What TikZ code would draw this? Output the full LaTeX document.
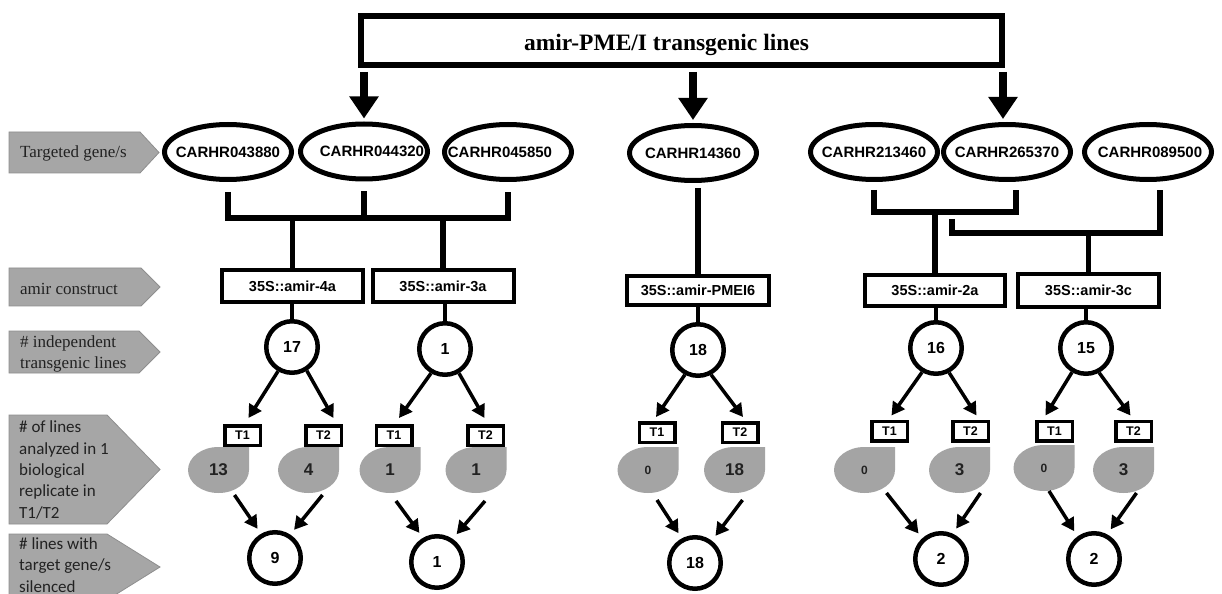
\documentclass[tikz,border=0pt]{standalone}
\usepackage{fontspec}
\setmainfont{Liberation Serif}
\newfontfamily\hv{Liberation Sans}
\newfontfamily\carl{Carlito}
\usetikzlibrary{arrows.meta,shapes.geometric}
\pgfdeclarelayer{bg}
\pgfsetlayers{bg,main}

\definecolor{labelgray}{HTML}{A6A6A6}
\definecolor{labeledge}{HTML}{8E8E8E}
\definecolor{dropgray}{HTML}{A4A4A4}
\definecolor{ink}{HTML}{222222}

\newcommand\genefont{\hv\bfseries\fontsize{15bp}{18bp}\selectfont}
\newcommand\boxfont{\hv\bfseries\fontsize{14.5bp}{17bp}\selectfont}
\newcommand\numfont{\hv\bfseries\fontsize{16bp}{19bp}\selectfont}
\newcommand\dropfont{\hv\bfseries\fontsize{17bp}{20bp}\selectfont}
\newcommand\zerofont{\hv\bfseries\fontsize{12bp}{14bp}\selectfont}
\newcommand\tfont{\hv\bfseries\fontsize{12.5bp}{15bp}\selectfont}

% grey teardrop behind a drop node: three rounded quarters, square top-right corner
\newcommand\teardrop[1]{\fill[dropgray] (#1.north east) -- (#1.north)
  arc[start angle=90,end angle=360,x radius=30.5bp,y radius=23bp] -- cycle;}

\begin{document}
\begin{tikzpicture}[x=1bp,y=-1bp,
  titlebox/.style={rectangle,draw,line width=6bp,minimum width=641bp,minimum height=49bp,inner sep=0pt},
  gene/.style={ellipse,draw,line width=5bp,minimum width=127bp,minimum height=55bp,inner sep=0pt,font=\genefont},
  cbox/.style={rectangle,draw,line width=4bp,minimum width=141bp,minimum height=32bp,inner sep=0pt,font=\boxfont},
  num/.style={circle,draw,line width=4.5bp,minimum size=51.5bp,inner sep=0pt,font=\numfont},
  tbox/.style={rectangle,draw,line width=3.5bp,minimum width=35.5bp,minimum height=19.5bp,inner sep=0pt,font=\tfont},
  drop/.style={rectangle,minimum width=61bp,minimum height=46bp,inner sep=0pt,outer sep=0pt,font=\dropfont,text=ink},
  zero/.style={drop,font=\zerofont},
  link/.style={line width=5.5bp},
  thinlink/.style={line width=4bp},
  bigarrow/.style={line width=8bp,-{Triangle[length=22bp,width=28bp]}},
  smallarrow/.style={line width=3.5bp,-{Triangle[length=13bp,width=14bp]}},
  labelshape/.style={fill=labelgray,draw=labeledge,line width=0.8bp},
  serlabel/.style={anchor=base west,inner sep=0pt,align=left,text=ink,font=\fontsize{17bp}{20bp}\selectfont},
  callabel/.style={anchor=base west,inner sep=0pt,align=left,text=ink,font=\carl\fontsize{17bp}{21.3bp}\selectfont}
]
\useasboundingbox (0,0) rectangle (1222,594);

% ---- row labels on the left
\path[labelshape] (9,132) -- (140,132) -- (159,152.5) -- (140,173) -- (9,173) -- cycle;
\node[serlabel] (lab1) at (20,158) {Targeted gene/s};
\path[labelshape] (9,268) -- (141,268) -- (160,287) -- (141,306) -- (9,306) -- cycle;
\node[serlabel] (lab2) at (20,295) {amir construct};
\path[labelshape] (9,331) -- (139,331) -- (160,352) -- (139,373) -- (9,373) -- cycle;
\node[serlabel] (lab3) at (20,368) {\# independent\\transgenic lines};
\path[labelshape] (9,415) -- (107,415) -- (160,469.5) -- (107,524) -- (9,524) -- cycle;
\node[callabel] (lab4) at (19,518) {\# of lines\\analyzed in 1\\biological\\replicate in\\T1/T2};
\path[labelshape] (9,534) -- (107,534) -- (160,567) -- (107,600) -- (9,600) -- cycle;
\node[callabel] (lab5) at (19,592) {\# lines with\\target gene/s\\silenced};

% ---- title
\node[titlebox] (top) at (681.5,40.5) {};
\node[anchor=base,inner sep=0pt,font=\bfseries\fontsize{23.5bp}{28bp}\selectfont] (toptext) at (666.5,51) {amir-PME/I transgenic lines};

% ---- targeted genes
\node[gene] (e1) at (228,152)  {\makebox[0pt]{CARHR043880}};
\node[gene] (e2) at (364,151.5){\makebox[0pt]{\hspace*{16bp}CARHR044320}};
\node[gene] (e3) at (508,152)  {\makebox[0pt]{CARHR045850\hspace*{16bp}}};
\node[gene] (e4) at (693,153)  {\makebox[0pt]{CARHR14360}};
\node[gene] (e5) at (874,152)  {\makebox[0pt]{CARHR213460}};
\node[gene] (e6) at (1007,152) {\makebox[0pt]{CARHR265370}};
\node[gene] (e7) at (1148,152) {\makebox[0pt]{\hspace*{4bp}CARHR089500}};

% ---- arrows from the title box
\coordinate (tb) at ([yshift=-4bp]top.south);
\draw[bigarrow] (tb -| e2.north) -- ([yshift=3bp]e2.north);
\draw[bigarrow] (tb -| e4.north) -- ([yshift=3bp]e4.north);
\coordinate (e6t) at ([xshift=-4bp,yshift=3bp]e6.north);
\draw[bigarrow] (tb -| e6t) -- (e6t);

% ---- amir constructs
\node[cbox] (c1) at (292.5,286) {35S::amir-4a};
\node[cbox] (c2) at (443,286)   {35S::amir-3a};
\node[cbox,minimum width=142bp,minimum height=29bp] (c3) at (698,290.5) {35S::amir-PMEI6};
\node[cbox,minimum width=140bp,minimum height=31bp] (c4) at (935,290.5) {35S::amir-2a};
\node[cbox] (c5) at (1088.5,290.5) {35S::amir-3c};

% ---- gene to construct connectors
\coordinate (jl) at (0,218);
\draw[link] ([yshift=-10bp]e1.south) -- (e1.south |- jl) -- (e3.south |- jl) -- ([yshift=-10bp]e3.south);
\draw[link] ([yshift=-10bp]e2.south) -- (e2.south |- jl);
\draw[link] (c1.north |- jl) -- (c1.north);
\draw[link] (c2.north |- jl) -- (c2.north);

\coordinate (e4b) at ([yshift=-5bp]e4.south);
\draw[link] (c3.north |- e4b) -- (c3.north);

\coordinate (jr1) at (0,212);
\coordinate (e6b) at ([xshift=9bp,yshift=-8bp]e6.south);
\draw[link] ([yshift=-8bp]e5.south) -- (e5.south |- jr1) -- (e6b |- jr1) -- (e6b);
\draw[link] (c4.north |- jr1) -- (c4.north);

\coordinate (jr2) at (0,233);
\coordinate (k2) at (952,219);
\coordinate (e7b) at ([xshift=12bp,yshift=-8bp]e7.south);
\draw[link] (k2) -- (k2 |- jr2) -- (e7b |- jr2) -- (e7b);
\draw[link] (c5.north |- jr2) -- (c5.north);

% ---- independent lines
\node[num] (n1) at (292,347)  {17};
\node[num] (n2) at (445,349)  {1};
\node[num] (n3) at (698,350)  {18};
\node[num] (n4) at (936,348)  {16};
\node[num] (n5) at (1086,348) {15};
\draw[thinlink] (n1.north |- c1.south) -- (n1.north);
\draw[thinlink] (n2.north |- c2.south) -- (n2.north);
\draw[thinlink] (n3.north |- c3.south) -- (n3.north);
\draw[thinlink] (n4.north |- c4.south) -- (n4.north);
\draw[thinlink] (n5.north |- c5.south) -- (n5.north);

% ---- T1 / T2 tags
\node[tbox] (ta1) at (242.5,435.5) {T1};
\node[tbox] (ta2) at (323.5,435.5) {T2};
\node[tbox] (tb1) at (394,435.5)   {T1};
\node[tbox] (tb2) at (485.5,435.5) {T2};
\node[tbox] (tc1) at (657,432.5)   {T1};
\node[tbox] (tc2) at (740,432.5)   {T2};
\node[tbox] (td1) at (889.5,431)   {T1};
\node[tbox] (td2) at (970.5,431)   {T2};
\node[tbox] (te1) at (1054.5,431)  {T1};
\node[tbox] (te2) at (1133.5,431)  {T2};

\draw[smallarrow] (n1.240) -- ([xshift=6bp,yshift=6bp]ta1.north);
\draw[smallarrow] (n1.302) -- ([xshift=10bp,yshift=6bp]ta2.north);
\draw[smallarrow] (n2.240) -- ([xshift=5bp,yshift=6bp]tb1.north);
\draw[smallarrow] (n2.300) -- ([xshift=-1bp,yshift=6bp]tb2.north);
\draw[smallarrow] (n3.242) -- ([xshift=-1bp,yshift=4bp]tc1.north);
\draw[smallarrow] (n3.298) -- ([xshift=3bp,yshift=4bp]tc2.north);
\draw[smallarrow] (n4.240) -- ([xshift=2bp,yshift=4bp]td1.north);
\draw[smallarrow] (n4.298) -- ([xshift=6bp,yshift=4bp]td2.north);
\draw[smallarrow] (n5.240) -- ([xshift=-9bp,yshift=4bp]te1.north);
\draw[smallarrow] (n5.298) -- ([xshift=-3bp,yshift=4bp]te2.north);

% ---- lines analysed per generation
\node[drop] (da1) at (218.5,470) {13};
\node[drop] (da2) at (308.5,470) {4};
\node[drop] (db1) at (390,470)   {1};
\node[drop] (db2) at (476,470)   {1};
\node[zero] (dc1) at (648,470)   {0};
\node[drop] (dc2) at (734.5,470) {18};
\node[zero] (dd1) at (864.5,470) {0};
\node[drop] (dd2) at (959.5,470) {3};
\node[zero] (de1) at (1044,468)  {0};
\node[drop] (de2) at (1123.5,470){3};
\begin{pgfonlayer}{bg}
  \fill[white] (0,0) rectangle (1222,594);
  \teardrop{da1}\teardrop{da2}\teardrop{db1}\teardrop{db2}\teardrop{dc1}
  \teardrop{dc2}\teardrop{dd1}\teardrop{dd2}\teardrop{de1}\teardrop{de2}
\end{pgfonlayer}

% ---- silenced lines
\node[num] (m1) at (275,558)  {9};
\node[num] (m2) at (437,562)  {1};
\node[num] (m3) at (695,563)  {18};
\node[num] (m4) at (941,559)  {2};
\node[num] (m5) at (1094,559) {2};

\draw[smallarrow,shorten >=6bp] ([xshift=16bp,yshift=-2bp]da1.south) -- (m1.120);
\draw[smallarrow,shorten >=6bp] ([xshift=14bp,yshift=-2bp]da2.south) -- (m1.57);
\draw[smallarrow,shorten >=6bp] ([xshift=6bp,yshift=-8bp]db1.south) -- (m2.120);
\draw[smallarrow,shorten >=6bp] ([xshift=9bp,yshift=-8bp]db2.south) -- (m2.56);
\draw[smallarrow,shorten >=6bp] ([xshift=9bp,yshift=-7bp]dc1.south) -- (m3.118);
\draw[smallarrow,shorten >=6bp] ([xshift=8bp,yshift=-7bp]dc2.south) -- (m3.53);
\draw[smallarrow,shorten >=6bp] ([xshift=22bp,yshift=0bp]dd1.south) -- (m4.132);
\draw[smallarrow,shorten >=6bp] ([xshift=21bp,yshift=0bp]dd2.south) -- (m4.65);
\draw[smallarrow,shorten >=6bp] ([xshift=5bp,yshift=0bp]de1.south) -- (m5.126);
\draw[smallarrow,shorten >=6bp] ([xshift=13bp,yshift=0bp]de2.south) -- (m5.62);
\end{tikzpicture}
\end{document}
